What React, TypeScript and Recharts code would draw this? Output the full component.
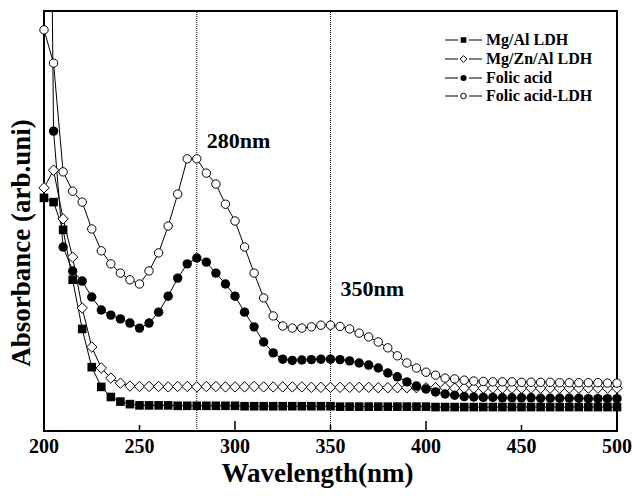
import React from 'react';
import {
  LineChart,
  Line,
  XAxis,
  YAxis,
  ReferenceLine,
  ReferenceArea,
  ReferenceDot,
  Legend,
  Label,
} from 'recharts';

const FONT = '"Liberation Serif", "Times New Roman", Times, serif';

// Wavelength grid (nm), 5 nm steps
const wavelengths: number[] = [
  200, 205, 210, 215, 220, 225, 230, 235, 240, 245,
  250, 255, 260, 265, 270, 275, 280, 285, 290, 295,
  300, 305, 310, 315, 320, 325, 330, 335, 340, 345,
  350, 355, 360, 365, 370, 375, 380, 385, 390, 395,
  400, 405, 410, 415, 420, 425, 430, 435, 440, 445,
  450, 455, 460, 465, 470, 475, 480, 485, 490, 495,
  500,
];

// Absorbance, arbitrary units
const mgAlLdh: number[] = [
  0.555, 0.545, 0.479, 0.360, 0.243, 0.152, 0.105, 0.081, 0.070, 0.064,
  0.061, 0.061, 0.061, 0.061, 0.060, 0.060, 0.060, 0.060, 0.060, 0.060,
  0.060, 0.059, 0.059, 0.059, 0.059, 0.059, 0.059, 0.059, 0.059, 0.059,
  0.059, 0.058, 0.058, 0.058, 0.058, 0.058, 0.058, 0.058, 0.058, 0.058,
  0.058, 0.057, 0.057, 0.057, 0.057, 0.057, 0.057, 0.057, 0.057, 0.057,
  0.057, 0.057, 0.057, 0.057, 0.057, 0.057, 0.057, 0.057, 0.057, 0.057,
  0.057,
];

const mgZnAlLdh: number[] = [
  0.579, 0.621, 0.505, 0.414, 0.293, 0.200, 0.150, 0.126, 0.114, 0.107,
  0.106, 0.106, 0.106, 0.105, 0.106, 0.106, 0.105, 0.106, 0.106, 0.105,
  0.105, 0.105, 0.106, 0.105, 0.105, 0.105, 0.105, 0.105, 0.104, 0.104,
  0.104, 0.104, 0.104, 0.104, 0.104, 0.103, 0.103, 0.103, 0.103, 0.103,
  0.103, 0.103, 0.103, 0.102, 0.102, 0.102, 0.102, 0.102, 0.102, 0.102,
  0.102, 0.102, 0.102, 0.102, 0.102, 0.102, 0.102, 0.102, 0.102, 0.102,
  0.102,
];

const folicAcid: number[] = [
  2.950, 0.714, 0.438, 0.381, 0.357, 0.319, 0.288, 0.276, 0.267, 0.257,
  0.245, 0.257, 0.283, 0.321, 0.364, 0.398, 0.412, 0.402, 0.376, 0.350,
  0.321, 0.283, 0.248, 0.212, 0.186, 0.171, 0.168, 0.169, 0.170, 0.171,
  0.171, 0.170, 0.167, 0.162, 0.157, 0.150, 0.138, 0.129, 0.117, 0.107,
  0.100, 0.093, 0.088, 0.085, 0.082, 0.081, 0.080, 0.080, 0.079, 0.079,
  0.079, 0.079, 0.078, 0.078, 0.078, 0.078, 0.078, 0.077, 0.077, 0.077,
  0.077,
];

const folicAcidLdh: number[] = [
  0.955, 0.876, 0.617, 0.571, 0.545, 0.481, 0.429, 0.398, 0.376, 0.360,
  0.350, 0.381, 0.424, 0.488, 0.564, 0.648, 0.648, 0.614, 0.588, 0.540,
  0.500, 0.438, 0.376, 0.317, 0.274, 0.250, 0.245, 0.245, 0.248, 0.252,
  0.252, 0.249, 0.243, 0.233, 0.224, 0.212, 0.198, 0.179, 0.162, 0.150,
  0.140, 0.133, 0.126, 0.124, 0.121, 0.119, 0.118, 0.117, 0.117, 0.117,
  0.116, 0.116, 0.116, 0.116, 0.115, 0.115, 0.115, 0.115, 0.115, 0.114,
  0.114,
];

const xTicks: number[] = [200, 250, 300, 350, 400, 450, 500];
const peakMarkers = [
  { nm: 280, text: '280nm', labelAt: 0.693 },
  { nm: 350, text: '350nm', labelAt: 0.34 },
];

const data = wavelengths.map((nm, i) => ({
  nm,
  mgAl: mgAlLdh[i],
  mgZnAl: mgZnAlLdh[i],
  folic: folicAcid[i],
  folicLdh: folicAcidLdh[i],
}));

type MarkerKind = 'square' | 'diamond' | 'disc' | 'ring';

const series: { key: string; name: string; marker: MarkerKind }[] = [
  { key: 'mgAl', name: 'Mg/Al LDH', marker: 'square' },
  { key: 'mgZnAl', name: 'Mg/Zn/Al LDH', marker: 'diamond' },
  { key: 'folic', name: 'Folic acid', marker: 'disc' },
  { key: 'folicLdh', name: 'Folic acid-LDH', marker: 'ring' },
];

function marker(kind: MarkerKind, cx: number, cy: number, scale: number, key?: string) {
  switch (kind) {
    case 'square': {
      const s = 8.6 * scale;
      return <rect key={key} x={cx - s / 2} y={cy - s / 2} width={s} height={s} fill="#000" />;
    }
    case 'diamond': {
      const h = 5.2 * scale;
      return (
        <path
          key={key}
          d={`M${cx},${cy - h}L${cx + h},${cy}L${cx},${cy + h}L${cx - h},${cy}Z`}
          fill="#fff"
          stroke="#000"
          strokeWidth={1}
        />
      );
    }
    case 'disc':
      return <circle key={key} cx={cx} cy={cy} r={4.7 * scale} fill="#000" />;
    default:
      return <circle key={key} cx={cx} cy={cy} r={4.2 * scale} fill="#fff" stroke="#000" strokeWidth={1} />;
  }
}

const makeDot = (kind: MarkerKind) => (props: any) => {
  const { cx, cy, index } = props;
  if (cx == null || cy == null || Number.isNaN(cy)) return <g key={`${kind}-${index}`} />;
  return marker(kind, cx, cy, 1, `${kind}-${index}`);
};

const XTick = (props: any) => {
  const { x, y, payload } = props;
  const major = payload.value % 100 === 0;
  return (
    <g>
      <line x1={x} x2={x} y1={y} y2={y - (major ? 10 : 6)} stroke="#000" strokeWidth={1.5} />
      <text
        x={x}
        y={y + 22}
        textAnchor="middle"
        fill="#000"
        fontFamily={FONT}
        fontWeight="bold"
        fontSize={20}
      >
        {payload.value}
      </text>
    </g>
  );
};

const LegendBox = () => (
  <div style={{ fontFamily: FONT }}>
    {series.map((s) => (
      <div key={s.key} style={{ display: 'flex', alignItems: 'center', height: 18.7 }}>
        <svg width={40} height={18} style={{ display: 'block' }}>
          <line x1={2} x2={15} y1={9} y2={9} stroke="#000" strokeWidth={1} />
          <line x1={26} x2={39} y1={9} y2={9} stroke="#000" strokeWidth={1} />
          {marker(s.marker, 20.5, 9, 0.65)}
        </svg>
        <span
          style={{
            marginLeft: 3,
            fontSize: 16,
            fontWeight: 'bold',
            color: '#000',
            lineHeight: '18px',
            whiteSpace: 'nowrap',
          }}
        >
          {s.name}
        </span>
      </div>
    ))}
  </div>
);

export default function App() {
  return (
    <div style={{ position: 'absolute', left: 0, top: 0, background: '#fff' }}>
      <LineChart
        width={634}
        height={496}
        data={data}
        margin={{ top: 11, right: 17, left: 0, bottom: 0 }}
      >
        <XAxis
          dataKey="nm"
          type="number"
          domain={[200, 500]}
          ticks={xTicks}
          interval={0}
          height={65}
          axisLine={false}
          tickLine={false}
          tickSize={0}
          tickMargin={0}
          tick={<XTick />}
        >
          <Label
            content={(p: any) => {
              const vb = p.viewBox;
              return (
                <text
                  x={vb.x + vb.width / 2 - 13}
                  y={vb.y + 51}
                  textAnchor="middle"
                  fill="#000"
                  fontFamily={FONT}
                  fontWeight="bold"
                  fontSize={27}
                >
                  Wavelength(nm)
                </text>
              );
            }}
          />
        </XAxis>
        <YAxis
          type="number"
          domain={[0, 1]}
          allowDataOverflow
          width={44}
          tick={false}
          tickLine={false}
          axisLine={false}
        >
          <Label
            content={(p: any) => {
              const vb = p.viewBox;
              const lx = vb.x + 30;
              const ly = vb.y + vb.height / 2 + 22;
              return (
                <text
                  x={lx}
                  y={ly}
                  transform={`rotate(-90, ${lx}, ${ly})`}
                  textAnchor="middle"
                  fill="#000"
                  fontFamily={FONT}
                  fontWeight="bold"
                  fontSize={27}
                >
                  Absorbance (arb.uni)
                </text>
              );
            }}
          />
        </YAxis>

        {peakMarkers.map((p) => (
          <ReferenceLine key={p.nm} x={p.nm} stroke="#000" strokeWidth={1} strokeDasharray="1 1" />
        ))}

        {series.map((s) => (
          <Line
            key={s.key}
            dataKey={s.key}
            name={s.name}
            type="linear"
            stroke="#000"
            strokeWidth={1}
            dot={makeDot(s.marker)}
            activeDot={false}
            isAnimationActive={false}
          />
        ))}

        {peakMarkers.map((p) => (
          <ReferenceDot
            key={`lbl-${p.nm}`}
            x={p.nm}
            y={p.labelAt}
            r={0}
            shape={() => <g />}
            label={{
              value: p.text,
              position: 'right',
              offset: 10,
              fill: '#000',
              fontFamily: FONT,
              fontWeight: 'bold',
              fontSize: 22,
            }}
          />
        ))}

        <ReferenceArea x1={200} x2={500} y1={0} y2={1} fill="none" stroke="#000" strokeWidth={2} />

        <Legend
          layout="vertical"
          align="center"
          verticalAlign="middle"
          content={<LegendBox />}
          wrapperStyle={{ position: 'absolute', left: 443, top: 31, width: 'auto' }}
        />
      </LineChart>
    </div>
  );
}
